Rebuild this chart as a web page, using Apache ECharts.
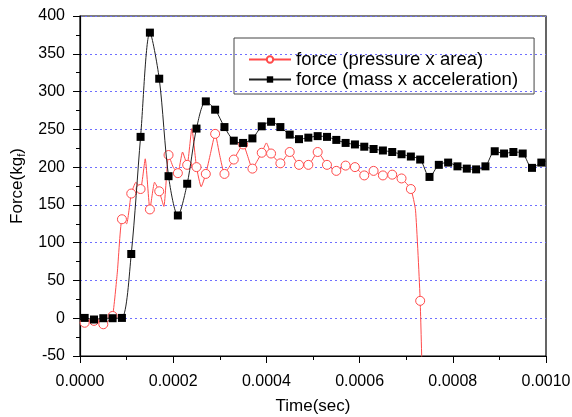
<!DOCTYPE html>
<html>
<head>
<meta charset="utf-8">
<script src="https://cdn.jsdelivr.net/npm/echarts@6/dist/echarts.min.js"></script>
<style>html,body{margin:0;padding:0;background:#fff}#c{width:572px;height:417px}</style>
</head>
<body>
<div id="c"></div>
<script>
// Time (sec) and force (kg_f)
const pressureTime = [0, 0.00001, 0.00002, 0.00003, 0.00004, 0.00005, 0.00006, 0.00007, 0.00008, 0.00009,
  0.00010, 0.00011, 0.00012, 0.00013, 0.00014, 0.00015, 0.00016, 0.00017, 0.00018, 0.00019,
  0.00020, 0.00021, 0.00022, 0.00023, 0.00024, 0.00025, 0.00026, 0.00027, 0.00028, 0.00029,
  0.00030, 0.00031, 0.00032, 0.00033, 0.00035, 0.00037, 0.00038, 0.00039, 0.00040, 0.00041,
  0.00043, 0.00045, 0.00047, 0.00049, 0.00051, 0.00053, 0.00055, 0.00057, 0.00059, 0.00061,
  0.00063, 0.00065, 0.00067, 0.00069, 0.00071, 0.00072, 0.00073, 0.00074];
const pressureForce = [-6, -6, -4, -3.5, -5, -8, -4, 3, 60, 131,
  125, 165, 180, 171, 211, 144, 180, 168, 148, 216,
  200, 192, 220, 203, 251, 200, 174, 191, 218, 244,
  215, 191, 200, 210, 230, 198, 208, 219, 232, 218,
  205, 220, 203, 203, 220, 203, 195, 202, 200, 189,
  195, 189, 190, 185, 171, 143, 23, -220];
const pressureMarked = [0, 1, 0, 1, 0, 1, 0, 1, 0, 1,
  0, 1, 0, 1, 0, 1, 0, 1, 0, 1,
  0, 1, 0, 1, 0, 1, 0, 1, 0, 1,
  0, 1, 0, 1, 1, 1, 0, 1, 0, 1,
  1, 1, 1, 1, 1, 1, 1, 1, 1, 1,
  1, 1, 1, 1, 1, 0, 1, 0];

const massTime = [0, 0.00001, 0.00003, 0.00005, 0.00007, 0.00009, 0.00011, 0.00013, 0.00015, 0.00017, 0.00019,
  0.00021, 0.00023, 0.00025, 0.00027, 0.00029, 0.00031, 0.00033, 0.00035, 0.00037, 0.00039,
  0.00041, 0.00043, 0.00045, 0.00047, 0.00049, 0.00051, 0.00053, 0.00055, 0.00057, 0.00059,
  0.00061, 0.00063, 0.00065, 0.00067, 0.00069, 0.00071, 0.00073, 0.00075, 0.00077, 0.00079,
  0.00081, 0.00083, 0.00085, 0.00087, 0.00089, 0.00091, 0.00093, 0.00095, 0.00097, 0.00099, 0.00100];
const massForce = [0, 0.4, -1.7, 0, 0, 0.4, 85, 240, 378, 317, 188,
  136, 178, 251, 287, 276, 253, 235, 232, 238, 254,
  260, 253, 243, 237, 239, 241, 240, 236, 232, 230,
  227, 224, 222, 220, 217, 214, 210, 187, 203, 206,
  201, 198, 197, 201, 221, 218, 220, 218, 199, 206, 208];

const seriesNames = ['force (pressure x area)', 'force (mass x acceleration)'];
const xTicks = { min: 0, max: 0.001, step: 0.0002 };
const yTicks = { min: -50, max: 400, step: 50 };

const FONT = 'Liberation Sans, Arial, sans-serif';
const chart = echarts.init(document.getElementById('c'), null, { renderer: 'canvas' });

const redData = pressureTime.map((t, i) => pressureMarked[i]
  ? [t, pressureForce[i]]
  : { value: [t, pressureForce[i]], symbol: 'none' });
const blackData = massTime.map((t, i) => (i === 0 || i === massTime.length - 1)
  ? { value: [t, massForce[i]], symbol: 'none' }
  : [t, massForce[i]]);

chart.setOption({
  backgroundColor: '#fff',
  animation: false,
  textStyle: { fontFamily: FONT },
  grid: { left: 80, right: 26, top: 16, bottom: 61, outerBoundsMode: 'none', containLabel: false,
    show: true, borderColor: '#000', borderWidth: 1.2, backgroundColor: 'transparent' },
  legend: {
    left: 234, top: 38, orient: 'vertical',
    itemWidth: 42, itemHeight: 8, itemGap: 1,
    padding: [12, 16, 5, 14],
    borderColor: '#444', borderWidth: 1,
    textStyle: { fontSize: 18.5, color: '#000', fontFamily: FONT },
    data: seriesNames
  },
  xAxis: {
    type: 'value', min: xTicks.min, max: xTicks.max, interval: xTicks.step,
    name: 'Time(sec)', nameLocation: 'middle', nameGap: 42,
    nameTextStyle: { fontSize: 17, color: '#000', fontFamily: FONT },
    axisLine: { onZero: false, lineStyle: { color: '#000', width: 1.2 } },
    axisTick: { inside: false, length: 7, lineStyle: { color: '#000' } },
    minorTick: { show: true, splitNumber: 2, length: 4, lineStyle: { color: '#000' } },
    axisLabel: { fontSize: 16, color: '#000', margin: 18, formatter: v => v.toFixed(4), fontFamily: FONT },
    splitLine: { show: false }
  },
  yAxis: {
    type: 'value', min: yTicks.min, max: yTicks.max, interval: yTicks.step,
    name: 'Force(kg{sub|f})', nameLocation: 'middle', nameGap: 53,
    nameTextStyle: { fontSize: 17, color: '#000', fontFamily: FONT,
      rich: { sub: { fontSize: 11, color: '#000', fontFamily: FONT, verticalAlign: 'bottom', padding: [8, 0, 0, 0] } } },
    axisLine: { show: true, lineStyle: { color: '#000', width: 1.2 } },
    axisTick: { inside: false, length: 7, lineStyle: { color: '#000' } },
    minorTick: { show: true, splitNumber: 2, length: 4, lineStyle: { color: '#000' } },
    axisLabel: { fontSize: 16, color: '#000', margin: 15, fontFamily: FONT },
    splitLine: { show: true, lineStyle: { color: '#6f6fff', type: [2, 3], width: 1 } }
  },
  series: [
    {
      name: seriesNames[0], type: 'line', data: redData,
      smooth: 0.15, symbol: 'circle', symbolSize: 9, showAllSymbol: true,
      lineStyle: { color: '#ff4a4a', width: 1 },
      itemStyle: { color: '#fff', borderColor: '#ff4a4a', borderWidth: 1 },
      z: 2
    },
    {
      name: seriesNames[1], type: 'line', data: blackData,
      smooth: 0.3, symbol: 'rect', symbolSize: 8, showAllSymbol: true,
      lineStyle: { color: '#222', width: 1 },
      itemStyle: { color: '#000', borderColor: '#000', borderWidth: 0 },
      z: 3
    }
  ]
});
</script>
</body>
</html>
